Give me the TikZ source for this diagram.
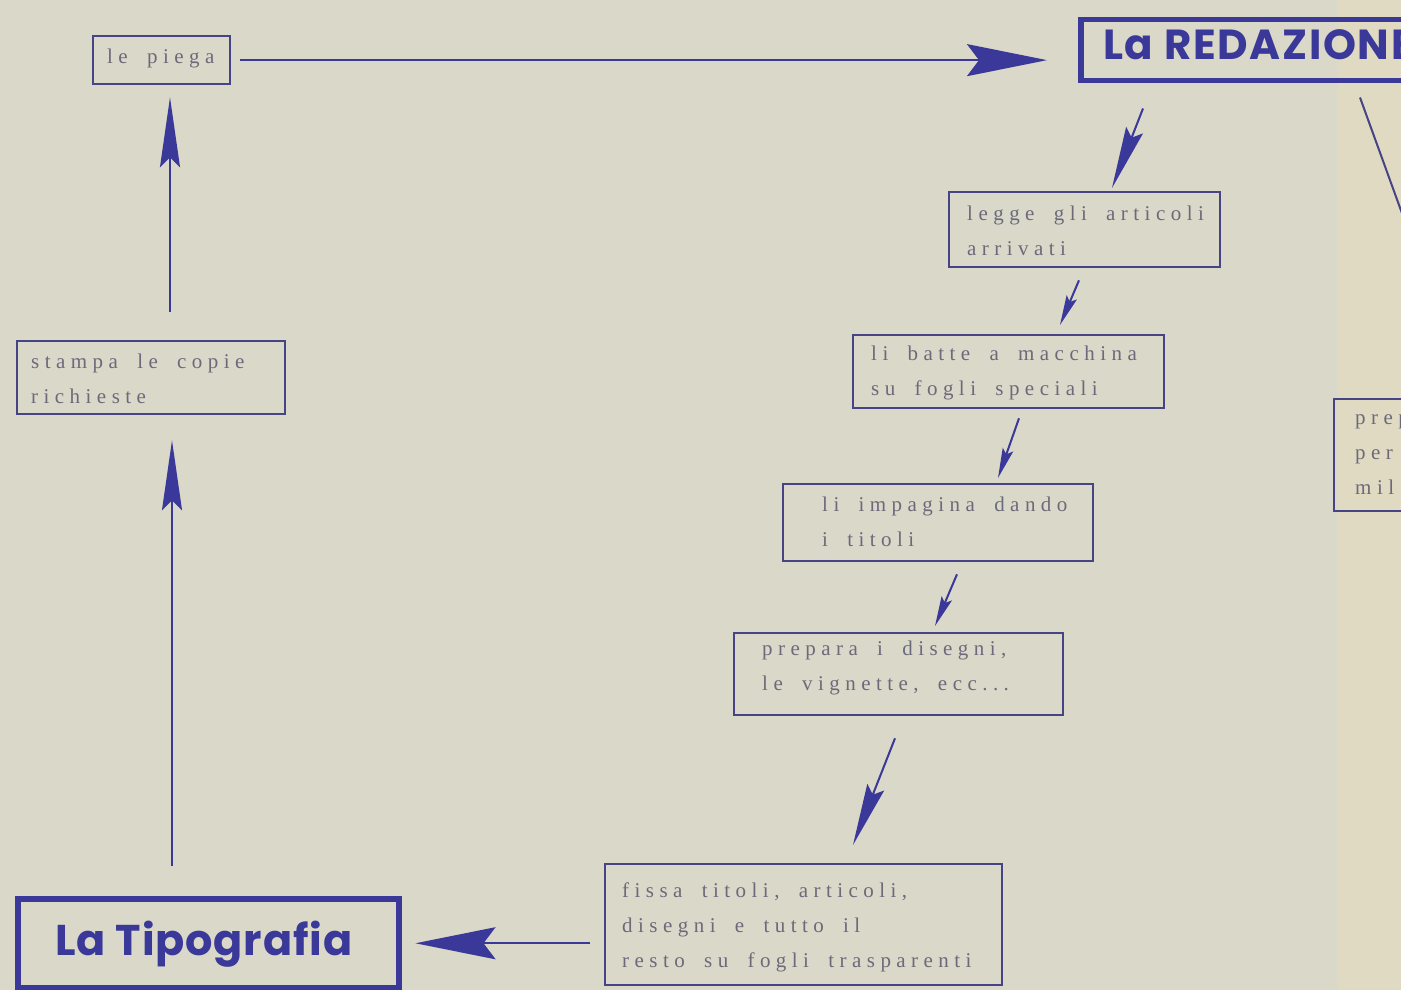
\documentclass[tikz,border=0pt]{standalone}
\usepackage{fontspec}
\usetikzlibrary{arrows.meta,calc}
\newfontfamily\boxfont{Liberation Serif}[LetterSpace=26,WordSpace=1.8]
\newfontfamily\headfont{Poppins}[LetterSpace=4]
\newfontfamily\headfontwide{Poppins}[LetterSpace=2]
\definecolor{paper}{RGB}{218,216,201}
\definecolor{paperR}{RGB}{225,218,194}
\definecolor{ink}{RGB}{58,56,152}
\definecolor{frame}{RGB}{70,68,132}
\definecolor{txt}{RGB}{108,106,122}
\newcommand\stacklines[1]{\begin{tabular}[t]{@{}l@{}}#1\end{tabular}}
\begin{document}
\begin{tikzpicture}[x=1pt,y=-1pt,
  stepbox/.style={draw=frame, line width=2.3pt, anchor=north west, inner sep=0pt},
  steptext/.style={anchor=base west, inner sep=0pt, text=txt, font=\boxfont\fontsize{21}{35}\selectfont},
  titlebox/.style={draw=ink, line width=5.5pt, anchor=north west, inner sep=0pt},
  titletext/.style={anchor=base west, inner sep=0pt, text=ink, font=\headfont\bfseries\fontsize{42}{50}\selectfont},
  titletextwide/.style={titletext, font=\headfontwide\bfseries\fontsize{43}{50}\selectfont},
  bigarr/.style={draw=ink, line width=2.4pt, -{Stealth[length=80pt,width=32pt,inset=12pt]}},
  vertarr/.style={draw=ink, line width=2.4pt, -{Stealth[length=70pt,width=20pt,inset=10pt]}},
  medarr/.style={draw=ink, line width=2pt, -{Stealth[length=62pt,width=18pt,inset=8pt]}},
  smallarr/.style={draw=ink, line width=2pt, -{Stealth[length=30pt,width=11pt,inset=5pt]}},
  plain/.style={draw=frame, line width=2pt}
]
\useasboundingbox (0,0) rectangle (1401,990);
\clip (0,0) rectangle (1401,990);
\fill[paper] (0,0) rectangle (1401,990);
\fill[paperR] (1338,0) rectangle (1401,990);

% boxes
\node[stepbox, minimum width=137pt, minimum height=48pt] (piega) at (92,35) {};
\node[steptext] (piegaT) at ($(piega.north west)+(15,29)$) {le piega};

\node[titlebox, minimum width=440pt, minimum height=61pt] (red) at (1078,17) {};
\node[titletext] (redT) at ($(red.north west)+(25,43)$) {La REDAZIONE};

\node[stepbox, minimum width=271pt, minimum height=75pt] (leg) at (948,191) {};
\node[steptext] (legT) at ($(leg.north west)+(19,29)$) {\stacklines{legge gli articoli\\arrivati}};

\node[stepbox, minimum width=311pt, minimum height=73pt] (bat) at (852,334) {};
\node[steptext] (batT) at ($(bat.north west)+(19,26)$) {\stacklines{li batte a macchina\\su fogli speciali}};

\node[stepbox, minimum width=310pt, minimum height=77pt] (imp) at (782,483) {};
\node[steptext] (impT) at ($(imp.north west)+(40,28)$) {\stacklines{li impagina dando\\i titoli}};

\node[stepbox, minimum width=329pt, minimum height=82pt] (pre) at (733,632) {};
\node[steptext] (preT) at ($(pre.north west)+(29,23)$) {\stacklines{prepara i disegni,\\le vignette, ecc...}};

\node[stepbox, minimum width=397pt, minimum height=121pt] (fis) at (604,863) {};
\node[steptext] (fisT) at ($(fis.north west)+(18,34)$) {\stacklines{fissa titoli, articoli,\\disegni e tutto il\\resto su fogli trasparenti}};

\node[titlebox, minimum width=381pt, minimum height=89pt] (tip) at (15,896) {};
\node[titletextwide] (tipT) at ($(tip.north west)+(40,59)$) {La Tipografia};

\node[stepbox, minimum width=268pt, minimum height=73pt] (sta) at (16,340) {};
\node[steptext] (staT) at ($(sta.north west)+(15,28)$) {\stacklines{stampa le copie\\richieste}};

\node[stepbox, minimum width=200pt, minimum height=112pt] (prp) at (1333,398) {};
\node[steptext] (prpT) at ($(prp.north west)+(22,26)$) {\stacklines{prep\\per\\mil}};

% connectors
\draw[bigarr, shorten <=9pt, shorten >=31pt] (piega.east) -- (piega.east -| red.west);
\draw[medarr] ($(red.south west)+(65,25)$) -- ($(leg.north west)+(164,-3)$);
\draw[smallarr] ($(leg.south west)+(131,12)$) -- ($(bat.north west)+(208,-9)$);
\draw[smallarr] ($(bat.south west)+(167,9)$) -- ($(imp.north west)+(216,-5)$);
\draw[smallarr] ($(imp.south west)+(175,12)$) -- ($(pre.north west)+(202,-6)$);
\draw[medarr] ($(pre.south west)+(162,22)$) -- ($(fis.north west)+(249,-18)$);
\draw[bigarr, shorten <=14pt, shorten >=14pt] (tip.east -| fis.west) -- (tip.east);
\draw[vertarr] ($(tip.north west)+(157,-30)$) -- ($(sta.south west)+(156,25)$);
\draw[vertarr] ($(sta.north west)+(154,-28)$) -- ($(piega.south west)+(78,12)$);
\coordinate (redR) at ($(red.south west)+(282,14)$);
\coordinate (offR) at (1440,318);
\draw[plain] (redR) -- (offR);
\end{tikzpicture}
\end{document}
